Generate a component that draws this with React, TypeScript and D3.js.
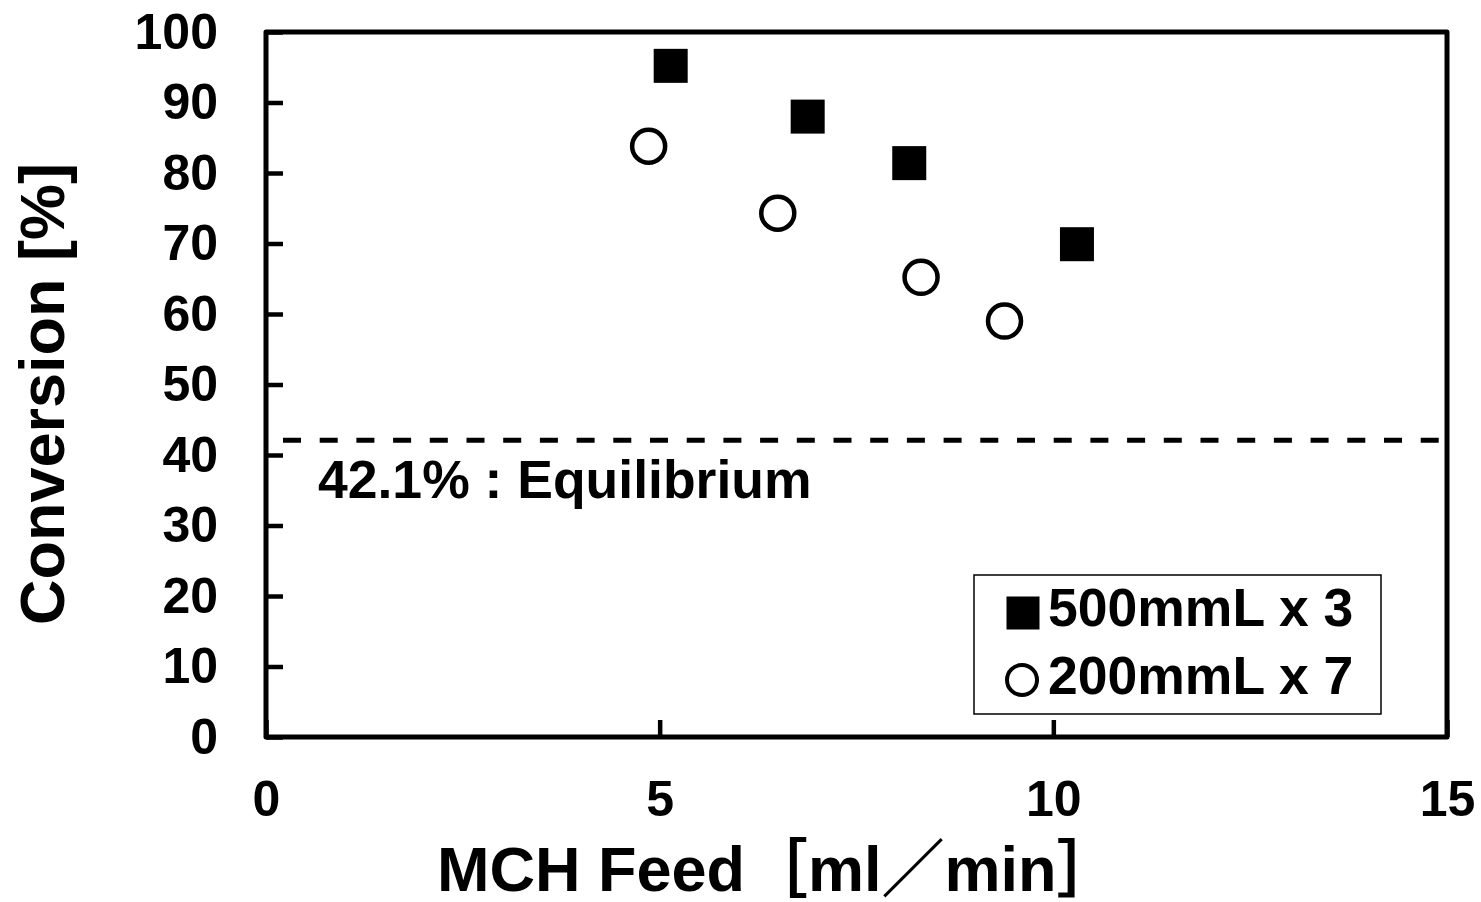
import React, { useEffect, useRef } from "react";
import * as d3 from "d3";

// values
const squareFeed = [5.14, 6.88, 8.17, 10.3];
const squareConv = [95.2, 88.0, 81.4, 69.9];
const circleFeed = [4.86, 6.5, 8.32, 9.38];
const circleConv = [83.8, 74.3, 65.2, 59.0];
const equilibrium = 42.1;
const xTicks = [0, 5, 10, 15];
const yTicks = [0, 10, 20, 30, 40, 50, 60, 70, 80, 90, 100];
const seriesNames = ["500mmL x 3", "200mmL x 7"];

const FONT = "'Liberation Sans', Arial, 'Noto Sans CJK JP', sans-serif";

export default function App() {
  const node = useRef<SVGSVGElement | null>(null);

  useEffect(() => {
    const svg = d3.select(node.current);
    svg.selectAll("*").remove();

    const left = 266, right = 1447, top = 32, bottom = 737;
    const x = d3.scaleLinear().domain([0, 15]).range([left, right]);
    const y = d3.scaleLinear().domain([0, 100]).range([bottom, top]);

    const g = svg.append("g").attr("font-family", FONT).attr("font-weight", "bold");

    // y axis, ticks pointing inside
    const yAxis = d3.axisLeft(y).tickValues(yTicks).tickSizeInner(-17).tickSizeOuter(0).tickPadding(48);
    const yg = g.append("g").attr("transform", `translate(${left},0)`).call(yAxis);
    yg.select(".domain").remove();
    yg.selectAll(".tick line").attr("stroke", "#000").attr("stroke-width", 4.5);
    yg.selectAll(".tick text").attr("font-size", 50).attr("fill", "#000").attr("font-family", FONT).attr("font-weight", "bold");

    const xAxis = d3.axisBottom(x).tickValues(xTicks).tickSizeInner(-17).tickSizeOuter(0).tickPadding(43);
    const xg = g.append("g").attr("transform", `translate(0,${bottom})`).call(xAxis);
    xg.select(".domain").remove();
    xg.selectAll(".tick line").attr("stroke", "#000").attr("stroke-width", 4.5);
    xg.selectAll(".tick text").attr("font-size", 50).attr("fill", "#000").attr("font-family", FONT).attr("font-weight", "bold");

    // frame
    g.append("rect")
      .attr("x", left).attr("y", top)
      .attr("width", right - left).attr("height", bottom - top)
      .attr("fill", "none").attr("stroke", "#000").attr("stroke-width", 5)
      .attr("stroke-linejoin", "round");

    // equilibrium line
    g.append("line")
      .attr("x1", x(0) + 17).attr("x2", x(15) - 2)
      .attr("y1", y(equilibrium)).attr("y2", y(equilibrium))
      .attr("stroke", "#000").attr("stroke-width", 5)
      .attr("stroke-dasharray", "18,18.7");
    g.append("text")
      .attr("x", 318).attr("y", 498)
      .attr("font-size", 53.5)
      .text(`${equilibrium}% : Equilibrium`);

    // series
    const sq = 34;
    g.selectAll(".sq")
      .data(squareFeed)
      .join("rect")
      .attr("class", "sq")
      .attr("x", (d) => x(d) - sq / 2)
      .attr("y", (d, i) => y(squareConv[i]) - sq / 2)
      .attr("width", sq).attr("height", sq)
      .attr("fill", "#000");

    g.selectAll(".ci")
      .data(circleFeed)
      .join("circle")
      .attr("class", "ci")
      .attr("cx", (d) => x(d))
      .attr("cy", (d, i) => y(circleConv[i]))
      .attr("r", 16.5)
      .attr("fill", "#fff").attr("stroke", "#000").attr("stroke-width", 4.5);

    // legend
    const lg = g.append("g");
    lg.append("rect")
      .attr("x", 974).attr("y", 575).attr("width", 407).attr("height", 139)
      .attr("fill", "#fff").attr("stroke", "#000").attr("stroke-width", 1.5);
    lg.append("rect")
      .attr("x", 1023 - 16.5).attr("y", 613 - 16.5).attr("width", 33).attr("height", 33)
      .attr("fill", "#000");
    lg.append("circle")
      .attr("cx", 1022).attr("cy", 680).attr("r", 15)
      .attr("fill", "#fff").attr("stroke", "#000").attr("stroke-width", 4);
    lg.selectAll(".lt")
      .data(seriesNames)
      .join("text")
      .attr("class", "lt")
      .attr("x", 1048)
      .attr("y", (d, i) => 626 + i * 68)
      .attr("font-size", 53.5)
      .text((d) => d);

    // axis titles
    g.append("text")
      .attr("transform", "translate(64,394) rotate(-90)")
      .attr("text-anchor", "middle")
      .attr("font-size", 63)
      .text("Conversion [%]");
    g.append("text")
      .attr("x", 437).attr("y", 891)
      .attr("font-size", 63)
      .text("MCH Feed［ml／min］");
  }, []);

  return (
    <svg
      ref={node}
      width={1481}
      height={902}
      style={{ position: "absolute", left: 0, top: 0, background: "#fff" }}
    />
  );
}
